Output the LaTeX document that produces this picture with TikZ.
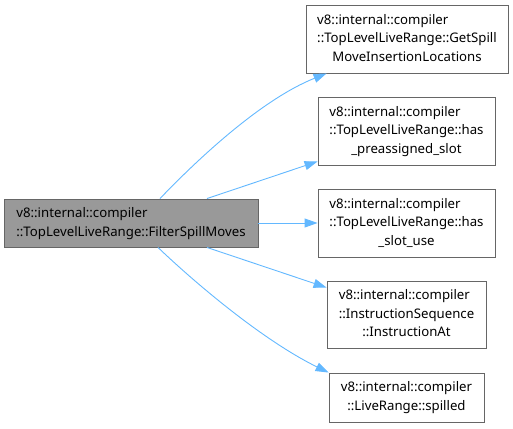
\documentclass[tikz,border=0pt]{standalone}
\usepackage{fontspec}
\setmainfont{Noto Sans}
\usetikzlibrary{arrows.meta}
\definecolor{edgeblue}{HTML}{63B8FF}
\definecolor{boxline}{HTML}{666666}
\definecolor{mainfill}{HTML}{999999}
\newcommand\dlabel[2]{\begin{tabular}{@{}l@{}}#1\multicolumn{1}{@{}c@{}}{#2}\end{tabular}}
\begin{document}
\begin{tikzpicture}[x=1pt,y=-1pt,
  box/.style={draw=boxline,fill=white,line width=0.9pt,inner sep=0pt,font=\fontsize{13.2}{18.7}\selectfont},
  edge/.style={draw=edgeblue,line width=0.9pt,-{Stealth[length=13pt,width=9pt,inset=0pt]}}]
\useasboundingbox (0,0) rectangle (513,428);
\node[box,fill=mainfill,minimum width=254pt,minimum height=48pt] (m) at (131,223) {\dlabel{v8::internal::compiler\\}{::TopLevelLiveRange::FilterSpillMoves}};
\node[box,minimum width=202pt,minimum height=68pt] (a) at (407,39) {\dlabel{v8::internal::compiler\\::TopLevelLiveRange::GetSpill\\}{MoveInsertionLocations}};
\node[box,minimum width=177pt,minimum height=68pt] (b) at (406.5,131) {\dlabel{v8::internal::compiler\\::TopLevelLiveRange::has\\}{\_preassigned\_slot}};
\node[box,minimum width=177pt,minimum height=68pt] (c) at (406.5,223) {\dlabel{v8::internal::compiler\\::TopLevelLiveRange::has\\}{\_slot\_use}};
\node[box,minimum width=159pt,minimum height=67pt] (d) at (406.5,314.5) {\dlabel{v8::internal::compiler\\::InstructionSequence\\}{::InstructionAt}};
\node[box,minimum width=155pt,minimum height=49pt] (e) at (406.5,397.5) {\dlabel{v8::internal::compiler\\}{::LiveRange::spilled}};
\coordinate (ma) at ([xshift=29pt]m.north);
\coordinate (aa) at ([xshift=21pt]a.south west);
\coordinate (mb) at ([xshift=76pt]m.north);
\coordinate (bb) at ([yshift=4pt]b.south west);
\coordinate (md) at ([xshift=76pt]m.south);
\coordinate (dd) at ([yshift=-7pt]d.north west);
\coordinate (me) at ([xshift=27pt]m.south);
\draw[edge] (ma) .. controls (195,162) and (260,100) .. (aa);
\draw[edge] (mb) -- (bb);
\draw[edge] (m.east) -- (c.west);
\draw[edge] (md) -- (dd);
\draw[edge] (me) .. controls (193,281) and (262,340) .. (e.north west);
\end{tikzpicture}
\end{document}
